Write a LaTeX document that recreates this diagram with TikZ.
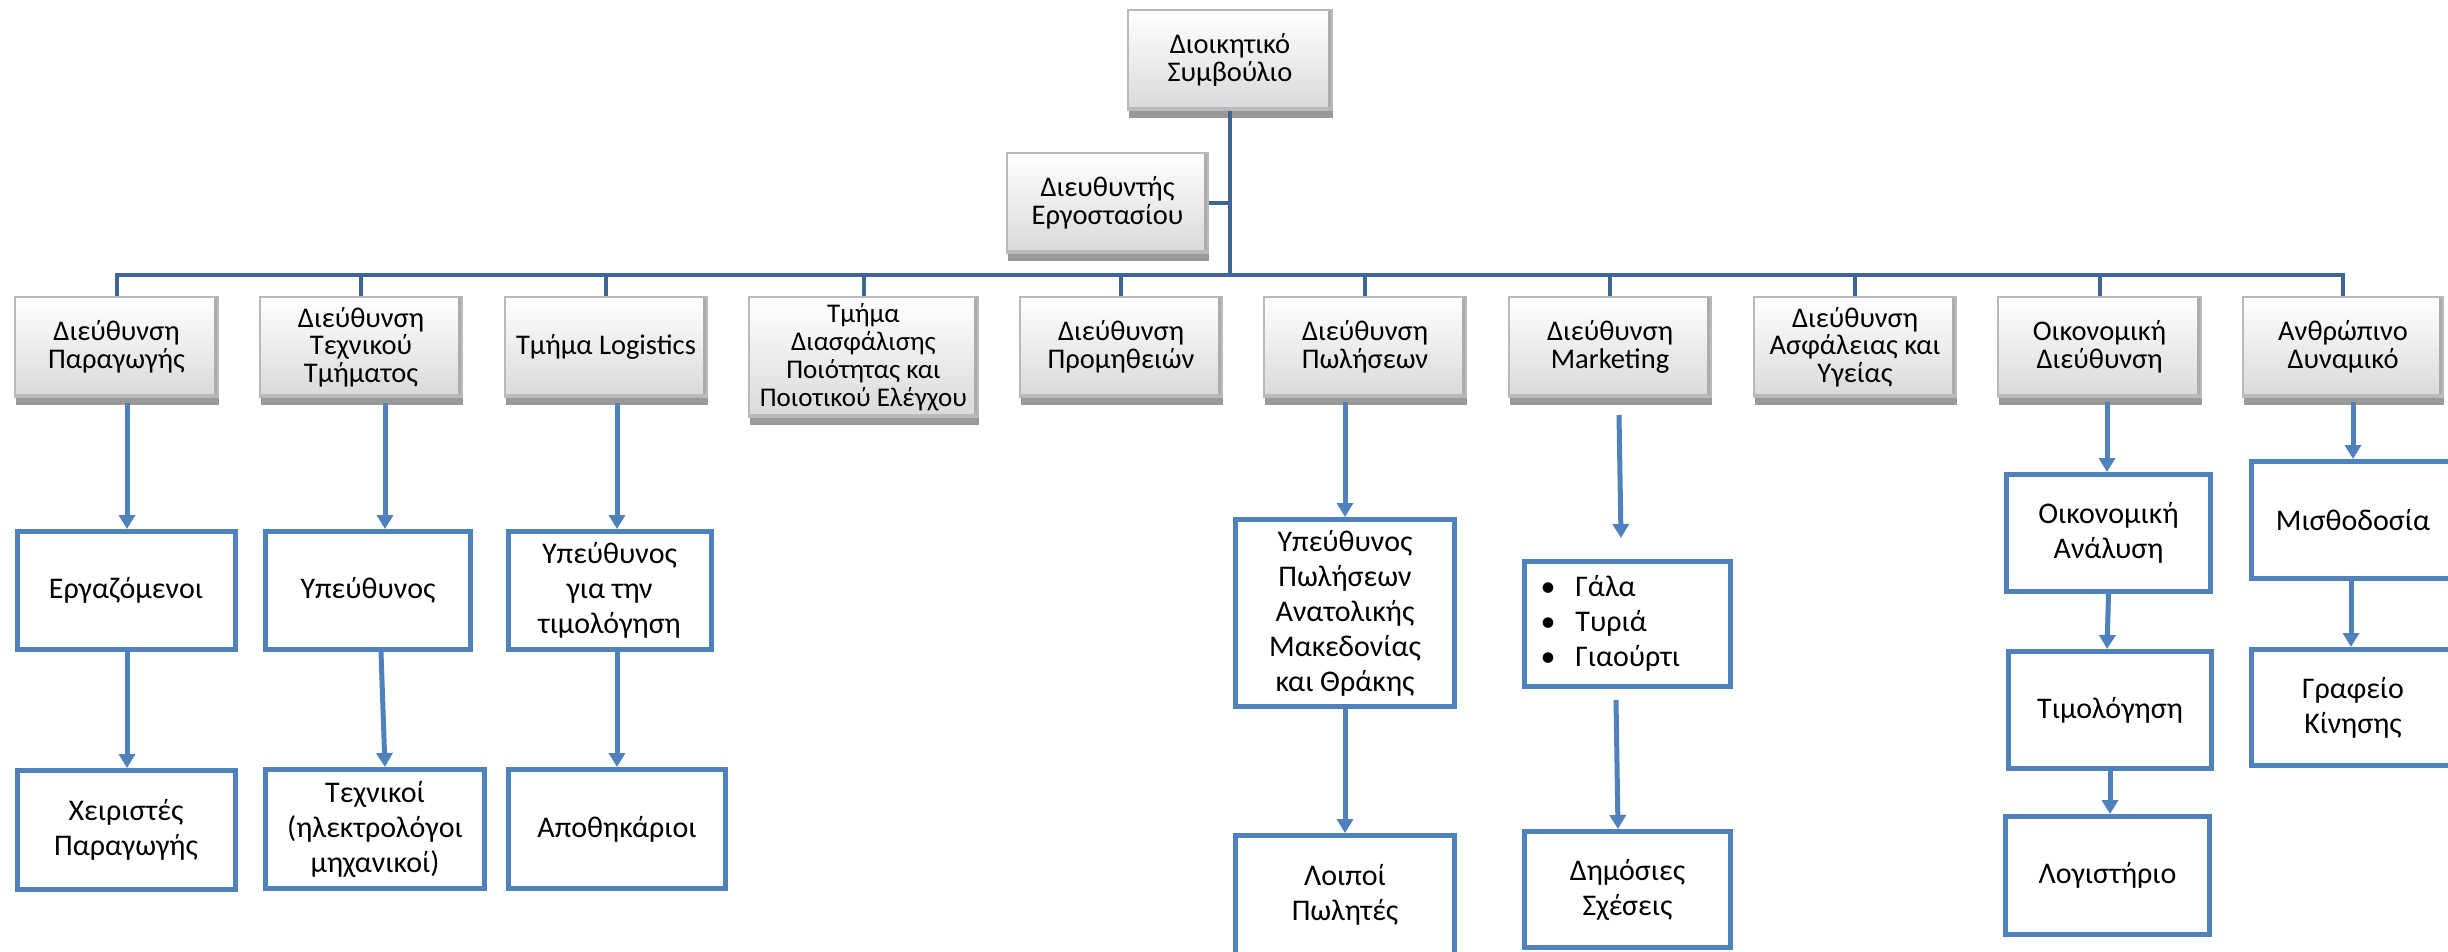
\documentclass[tikz,border=0pt]{standalone}
\usepackage{fontspec}
\setmainfont{Carlito}
\usepackage{graphicx}
\usetikzlibrary{arrows.meta,shadows,calc}
\definecolor{busblue}{RGB}{62,101,150}
\definecolor{arrblue}{RGB}{79,129,189}
\newcommand\topfnt{\fontsize{28.5}{27.5}\selectfont}
\newcommand\smallfnt{\fontsize{27}{28}\selectfont}
\newcommand\lowfnt{\fontsize{30}{35}\selectfont}
\tikzset{
  topbox/.style={draw=gray!55, line width=1.2pt, top color=white, bottom color=gray!30,
    drop shadow={shadow xshift=1pt, shadow yshift=-8pt, opacity=0.4, fill=black},
    path picture={\fill[gray!65] ([xshift=-4pt]path picture bounding box.north east) rectangle (path picture bounding box.south east);
                  \fill[gray!55] ([yshift=3pt]path picture bounding box.south west) rectangle (path picture bounding box.south east);},
    inner sep=2pt, align=center, font=\topfnt},
  lowbox/.style={draw=arrblue, line width=5pt, fill=white, align=center, font=\lowfnt, inner sep=2pt},
  bus/.style={draw=busblue, line width=4pt},
  arr/.style={draw=arrblue, line width=5pt, -{Triangle[width=16pt,length=14pt]}}
}
\begin{document}
\begin{tikzpicture}[x=1pt,y=-1pt]
\useasboundingbox (0,0) rectangle (2448,952);
\fill[white] (0,0) rectangle (2448,952);
\clip (0,0) rectangle (2448,952);

% top level
\node[topbox, minimum width=204pt, minimum height=100pt] (board) at (1230,60) {Διοικητικό\\Συμβούλιο};
\node[topbox, minimum width=201pt, minimum height=100pt] (dir) at (1107.5,203) {Διευθυντής\\Εργοστασίου};

% second row
\node[topbox, minimum width=203pt, minimum height=100pt] (p1) at (116.5,347) {Διεύθυνση\\Παραγωγής};
\node[topbox, minimum width=202pt, minimum height=100pt] (p2) at (361,347) {Διεύθυνση\\Τεχνικού\\Τμήματος};
\node[topbox, minimum width=202pt, minimum height=100pt] (p3) at (606,347) {Τμήμα Logistics};
\node[topbox, minimum width=229pt, minimum height=120pt, font=\smallfnt] (p4) at (863.5,357) {Τμήμα\\Διασφάλισης\\Ποιότητας και\\Ποιοτικού Ελέγχου};
\node[topbox, minimum width=202pt, minimum height=100pt] (p5) at (1121,347) {Διεύθυνση\\Προμηθειών};
\node[topbox, minimum width=202pt, minimum height=100pt] (p6) at (1365,347) {Διεύθυνση\\Πωλήσεων};
\node[topbox, minimum width=202pt, minimum height=100pt] (p7) at (1610,347) {Διεύθυνση\\Marketing};
\node[topbox, minimum width=202pt, minimum height=100pt] (p8) at (1855,347) {Διεύθυνση\\Ασφάλειας και\\Υγείας};
\node[topbox, minimum width=203pt, minimum height=100pt] (p9) at (2099.5,347) {Οικονομική\\Διεύθυνση};
\node[topbox, minimum width=200pt, minimum height=100pt] (p10) at (2343,347) {Ανθρώπινο\\Δυναμικό};

% bus
\coordinate (busL) at (117,275);
\draw[bus] (p1.north) -- (p1.north |- busL) -- (p10.north |- busL) -- (p10.north);
\foreach \n in {p2,p3,p4,p5,p6,p7,p8,p9} { \draw[bus] (\n.north) -- (\n.north |- busL); }
\draw[bus] (board.south) -- (board.south |- busL);
\draw[bus] (dir.east) -- (dir.east -| board.south);

% lower boxes
\node[lowbox, minimum width=218pt, minimum height=118pt] (e1) at (126,590.5) {Εργαζόμενοι};
\node[lowbox, minimum width=218pt, minimum height=119pt] (e2) at (126,830) {Χειριστές\\Παραγωγής};
\node[lowbox, minimum width=205pt, minimum height=118pt] (t1) at (368,590.5) {Υπεύθυνος};
\node[lowbox, minimum width=219pt, minimum height=119pt] (t2) at (375,829) {Τεχνικοί\\(ηλεκτρολόγοι\\μηχανικοί)};
\node[lowbox, minimum width=203pt, minimum height=118pt] (l1) at (609.5,590.5) {Υπεύθυνος\\για την\\τιμολόγηση};
\node[lowbox, minimum width=217pt, minimum height=119pt] (l2) at (617,829) {Αποθηκάριοι};
\node[lowbox, minimum width=219pt, minimum height=187pt] (s1) at (1345,613) {Υπεύθυνος\\Πωλήσεων\\Ανατολικής\\Μακεδονίας\\και Θράκης};
\node[lowbox, minimum width=219pt, minimum height=119pt] (s2) at (1345,895) {Λοιποί\\Πωλητές};
\node[lowbox, minimum width=206pt, minimum height=125pt] (m1) at (1627.5,624) {\makebox[186pt][l]{\hspace{6pt}\begin{tabular}{@{}l@{\hspace{20pt}}l@{}}\textbullet & Γάλα\\ \textbullet & Τυριά\\ \textbullet & Γιαούρτι\end{tabular}}};
\node[lowbox, minimum width=206pt, minimum height=116pt] (m2) at (1627.5,889.5) {Δημόσιες\\Σχέσεις};
\node[lowbox, minimum width=204pt, minimum height=117pt] (f1) at (2108.5,533) {Οικονομική\\Ανάλυση};
\node[lowbox, minimum width=203pt, minimum height=117pt] (f2) at (2110,710) {Τιμολόγηση};
\node[lowbox, minimum width=204pt, minimum height=118pt] (f3) at (2107.5,875.5) {Λογιστήριο};
\node[lowbox, minimum width=203pt, minimum height=117pt] (h1) at (2353,520) {Μισθοδοσία};
\node[lowbox, minimum width=203pt, minimum height=116pt] (h2) at (2353,707.5) {Γραφείο\\Κίνησης};

% arrows
\coordinate (a1) at (127,403);
\draw[arr] (a1) -- (e1.north -| a1);
\draw[arr] (e1.south -| a1) -- (e2.north -| a1);
\coordinate (a2) at (385,403);
\draw[arr] (a2) -- (t1.north -| a2);
\draw[arr] ([xshift=13pt]t1.south) -- (t2.north -| a2);
\coordinate (a3) at (617,403);
\draw[arr] (a3) -- (l1.north -| a3);
\draw[arr] (l1.south -| a3) -- (l2.north -| a3);
\coordinate (a6) at (1345,402);
\draw[arr] (a6) -- (s1.north);
\draw[arr] (s1.south) -- (s2.north);
\coordinate (a7) at (1619,415);
\coordinate (a7e) at (1621,538);
\draw[arr] (a7) -- (a7e);
\coordinate (a7b) at (1616,700);
\coordinate (a7f) at (1618,829);
\draw[arr] (a7b) -- (m2.north -| a7f);
\coordinate (a9) at (2107,402);
\draw[arr] (a9) -- (f1.north -| a9);
\draw[arr] (f1.south) -- (f2.north -| a9);
\draw[arr] (f2.south) -- (f3.north -| f2.south);
\coordinate (a10) at (2353,402);
\draw[arr] (a10) -- (h1.north);
\draw[arr] ([xshift=-2pt]h1.south) -- ([xshift=-2pt]h2.north);
\end{tikzpicture}
\end{document}
